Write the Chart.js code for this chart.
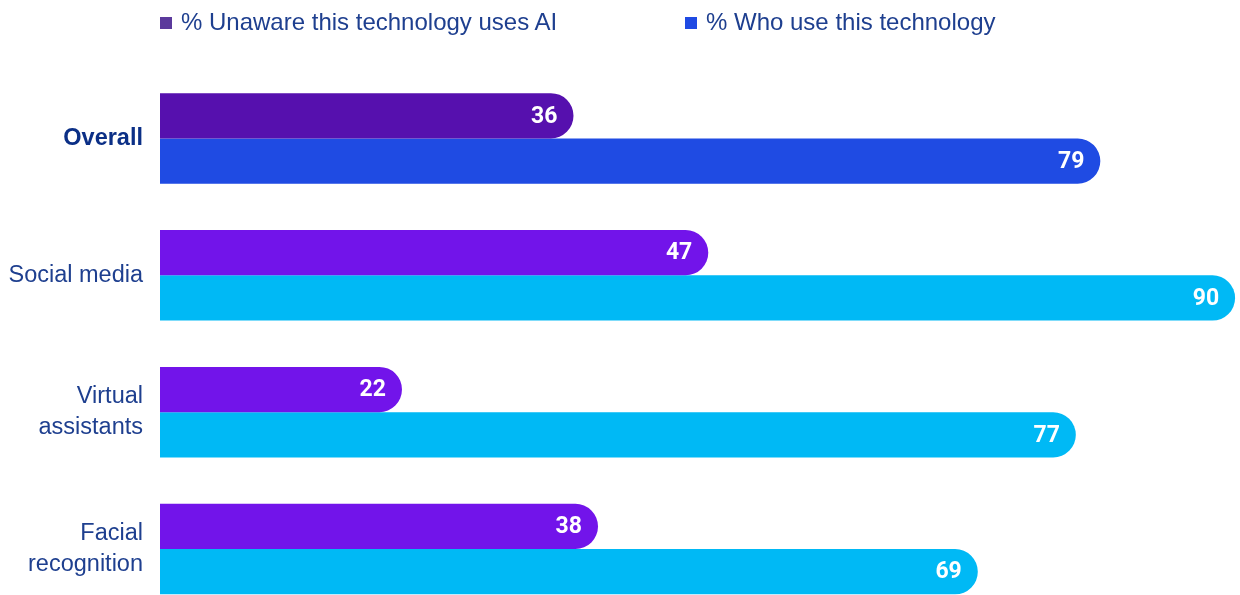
<!DOCTYPE html>
<html>
<head>
<meta charset="utf-8">
<script src="https://cdn.jsdelivr.net/npm/chart.js@4.4.1/dist/chart.umd.min.js"></script>
<style>
  html, body { margin: 0; padding: 0; background: #fff; overflow: hidden; width: 1240px; height: 595px; }
  #wrap { position: relative; width: 1240px; height: 595px; overflow: hidden; }
  canvas { position: absolute; left: 0; top: 0; }
  .leg { position: absolute; top: 8px; font-family: "Liberation Sans", Arial, sans-serif; font-size: 24px; color: #1e3f8f; white-space: nowrap; line-height: 28px; }
  .leg i { display: inline-block; width: 12px; height: 12px; margin-right: 9px; vertical-align: 1px; }
</style>
</head>
<body>
<div id="wrap">
  <canvas id="c" width="1240" height="640"></canvas>
  <div class="leg" id="leg0" style="left:160px"><i></i><span></span></div>
  <div class="leg" id="leg1" style="left:685px"><i></i><span></span></div>
</div>
<script>
const categories = ["Overall", ["Social media"], ["Virtual", "assistants"], ["Facial", "recognition"]];
const seriesNames = ["% Unaware this technology uses AI", "% Who use this technology"];
const unawareValues = [36, 47, 22, 38];
const useValues = [79, 90, 77, 69];
const unawareColors = ["#5610ae", "#7214ea", "#7214ea", "#7214ea"];
const useColors = ["#1f4be3", "#00b9f5", "#00b9f5", "#00b9f5"];
const legendColors = ["#5b3a9c", "#1f4ae3"];

// HTML legend
[0, 1].forEach(i => {
  const el = document.getElementById('leg' + i);
  el.querySelector('i').style.background = legendColors[i];
  el.querySelector('span').textContent = seriesNames[i];
});

const valueLabels = {
  id: 'valueLabels',
  afterDatasetsDraw(chart) {
    const ctx = chart.ctx;
    ctx.save();
    ctx.font = 'bold 23px Roboto, "Liberation Sans", sans-serif';
    ctx.fillStyle = '#ffffff';
    ctx.textAlign = 'right';
    ctx.textBaseline = 'middle';
    chart.data.datasets.forEach((ds, di) => {
      const meta = chart.getDatasetMeta(di);
      meta.data.forEach((el, i) => {
        ctx.fillText(String(ds.data[i]), el.x - 16, el.y + 1);
      });
    });
    ctx.restore();
  }
};

new Chart(document.getElementById('c'), {
  type: 'bar',
  data: {
    labels: categories,
    datasets: [
      { label: seriesNames[0], data: unawareValues, backgroundColor: unawareColors,
        borderRadius: 100, borderSkipped: 'start', barPercentage: 1, categoryPercentage: 0.662 },
      { label: seriesNames[1], data: useValues, backgroundColor: useColors,
        borderRadius: 100, borderSkipped: 'start', barPercentage: 1, categoryPercentage: 0.662 }
    ]
  },
  options: {
    indexAxis: 'y',
    responsive: false,
    animation: false,
    devicePixelRatio: 1,
    layout: { padding: { top: 70, bottom: 22.5, left: 0, right: 0 } },
    plugins: { legend: { display: false }, tooltip: { enabled: false } },
    scales: {
      x: { display: false, min: 2.25, max: 90.4 },
      y: {
        grid: { display: false, drawTicks: false },
        border: { display: false },
        afterFit(scale) { scale.width = 160; scale.paddingTop = 0; scale.paddingBottom = 0; },
        ticks: {
          padding: 17,
          color: (c) => c.index === 0 ? '#0b2f86' : '#1e3f8f',
          font: (c) => ({ family: '"Liberation Sans", Arial, sans-serif', size: 23.5, weight: c.index === 0 ? 'bold' : 'normal', lineHeight: 1.3 })
        }
      }
    }
  },
  plugins: [valueLabels]
});
</script>
</body>
</html>
